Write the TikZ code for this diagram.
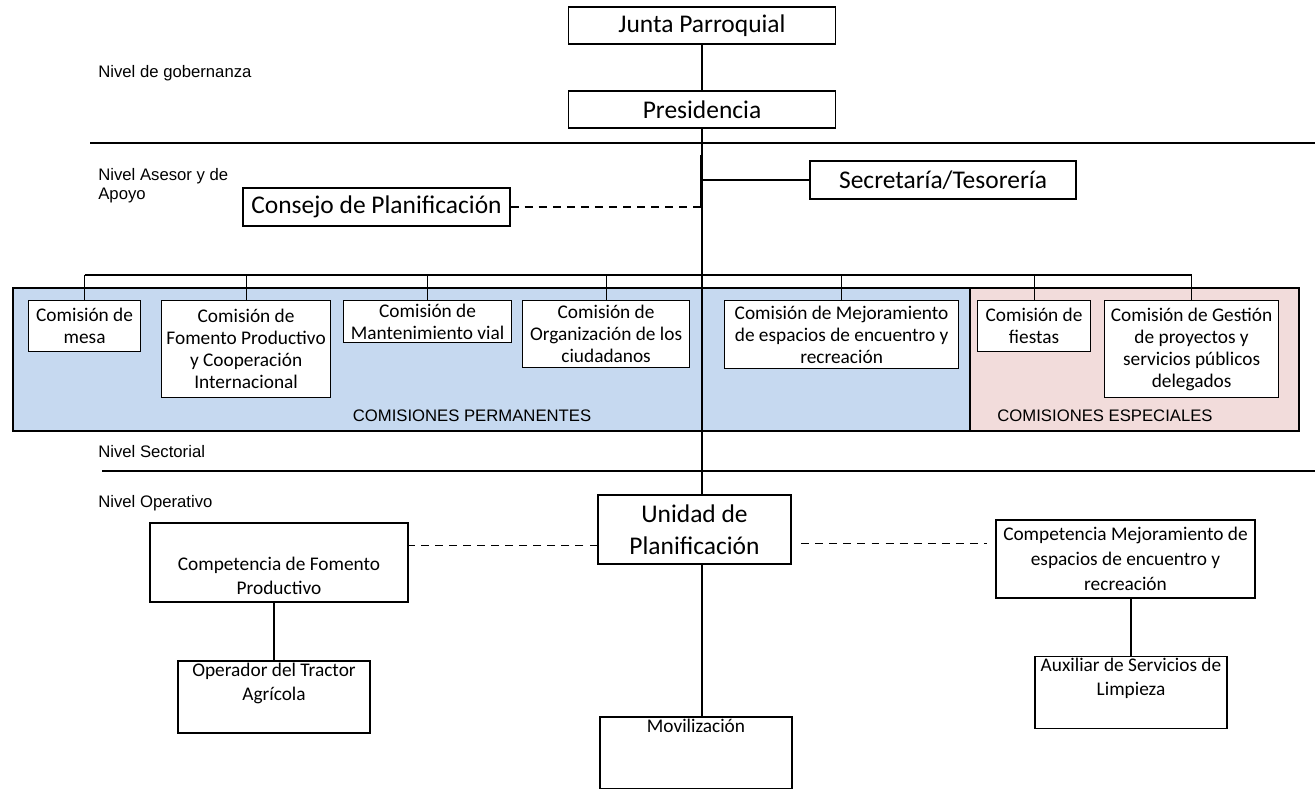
\documentclass[tikz,border=0pt]{standalone}
\usepackage{fontspec}
\setmainfont{Carlito}
\newfontfamily\arialfont{Liberation Sans}
\definecolor{permblue}{HTML}{C6D9F0}
\definecolor{espink}{HTML}{F2DCDB}

\begin{document}
\begin{tikzpicture}[x=0.02cm, y=-0.02cm,
    caja/.style={draw, line width=0.7pt, fill=white, align=center, inner sep=1pt},
    grande/.style={caja, font=\fontsize{14.5}{18}\selectfont},
    comision/.style={caja, anchor=north west, font=\fontsize{11}{12.5}\selectfont},
    normal/.style={caja, font=\fontsize{11}{13.6}\selectfont},
    nivel/.style={anchor=west, align=left, inner sep=0pt, font=\arialfont\fontsize{9.5}{10.8}\selectfont},
    grupo/.style={inner sep=0pt, font=\arialfont\fontsize{9.5}{11}\selectfont},
    raya/.style={line width=0.6pt},
    guiones/.style={line width=0.6pt, dash pattern=on 4.5pt off 3.5pt}]
    \useasboundingbox (0,0) rectangle (1315,788);

    \filldraw[fill=permblue, raya] (13,288) rectangle (970,431);
    \filldraw[fill=espink, raya] (970,288) rectangle (1299,431);
    \node[grupo] (perm) at (472,416) {COMISIONES PERMANENTES};
    \node[grupo] (esp) at (1105,416) {COMISIONES ESPECIALES};

    \draw[raya] (90,143) -- (1315,143);
    \draw[raya] (102,471) -- (1315,471);

    \node[nivel] (ngob) at (98,73) {Nivel de gobernanza};
    \node[nivel, anchor=north west] (nase) at (98,168) {Nivel Asesor y de\\Apoyo};
    \node[nivel] (nsect) at (98,452) {Nivel Sectorial};
    \node[nivel] (nope) at (98,503) {Nivel Operativo};

    \node[grande, minimum width=5.34cm, minimum height=0.74cm] (junta) at (702,25.5) {Junta Parroquial};
    \node[grande, minimum width=5.34cm, minimum height=0.74cm] (pres) at (702,109.5) {Presidencia};
    \node[grande, minimum width=5.32cm, minimum height=0.76cm] (secre) at (943,180) {Secretaría/Tesorería};
    \node[grande, minimum width=5.34cm, minimum height=0.76cm] (cons) at (376.5,207) {Consejo de Planificación};

    \node[comision, minimum width=2.24cm, minimum height=1.02cm] (mesa) at (28,300) {Comisión de\\mesa};
    \node[comision, minimum width=3.38cm, minimum height=1.94cm] (fom) at (161,300) {Comisión de\\Fomento Productivo\\y Cooperación\\Internacional};
    \node[comision, minimum width=3.36cm, minimum height=0.84cm] (mant) at (343,300) {Comisión de\\Mantenimiento vial};
    \node[comision, minimum width=3.34cm, minimum height=1.34cm] (org) at (522,300) {Comisión de\\Organización de los\\ciudadanos};
    \node[comision, minimum width=4.68cm, minimum height=1.36cm] (mejor) at (724,300) {Comisión de Mejoramiento\\de espacios de encuentro y\\recreación};
    \node[comision, minimum width=2.26cm, minimum height=1.02cm] (fiestas) at (977,300) {Comisión de\\fiestas};
    \node[comision, minimum width=3.48cm, minimum height=1.94cm] (gest) at (1104,300) {Comisión de Gestión\\de proyectos y\\servicios públicos\\delegados};

    \node[grande, minimum width=3.86cm, minimum height=1.38cm] (unidad) at (694.5,529.5) {Unidad de\\Planificación};
    \node[normal, minimum width=5.16cm, minimum height=1.58cm] (compfom) at (279,562.5) {\strut\\Competencia de Fomento\\Productivo};
    \node[normal, minimum width=3.84cm, minimum height=1.32cm] (oper) at (274,697) {Operador del Tractor\\Agrícola\\\strut};
    \node[normal, minimum width=5.18cm, minimum height=1.56cm, font=\fontsize{11}{14.2}\selectfont] (compmej) at (1125.5,559) {Competencia Mejoramiento de\\espacios de encuentro y\\recreación};
    \node[normal, minimum width=3.84cm, minimum height=1.34cm] (aux) at (1131,692.5) {Auxiliar de Servicios de\\Limpieza\\\strut};
    \node[normal, minimum width=3.84cm, minimum height=1.28cm] (mov) at (696,753) {Movilización\\\strut\\\strut};

    \coordinate (bus) at (0,275);
    \coordinate (grueso) at (701,155);
    \draw[raya] (junta) -- (pres);
    \draw[raya] (pres.south) -- (pres.south |- unidad.north);
    \draw[line width=1.3pt] (grueso) -- (grueso |- cons.east);
    \draw[raya] (secre.west) -- (secre.west -| pres.south);
    \draw[guiones] (cons.east) -- (cons.east -| pres.south);
    \draw[raya] (mesa.north |- bus) -- (gest.north |- bus);
    \foreach \c in {mesa,fom,mant,org,mejor,fiestas,gest}
      \draw[raya] (\c.north) -- (\c.north |- bus);
    \draw[raya] (unidad.south -| pres.south) -- (mov.north -| pres.south);
    \draw[guiones] ([yshift=-9pt]unidad.west) -- ([yshift=-9pt]unidad.west -| compfom.east);
    \draw[guiones, shorten <=5.5pt, shorten >=5pt] ([yshift=-8pt]unidad.east) -- ([yshift=-8pt]unidad.east -| compmej.west);
    \draw[raya] (compfom.south -| oper.north) -- (oper.north);
    \draw[raya] (compmej.south -| aux.north) -- (aux.north);
  \end{tikzpicture}
\end{document}
